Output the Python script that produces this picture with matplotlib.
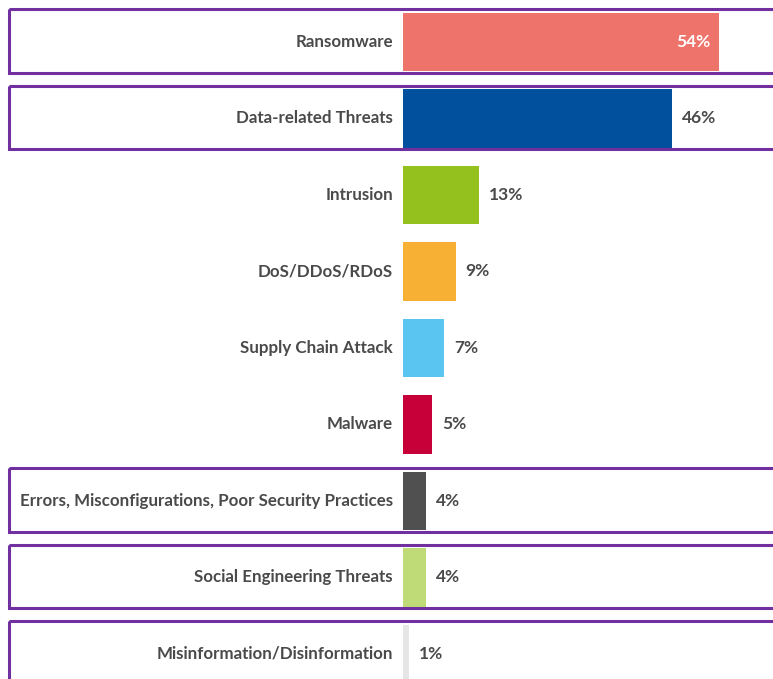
import matplotlib.pyplot as plt
from matplotlib.patches import Rectangle
from matplotlib.transforms import blended_transform_factory

categories = ['Ransomware', 'Data-related Threats', 'Intrusion', 'DoS/DDoS/RDoS',
              'Supply Chain Attack', 'Malware',
              'Errors, Misconfigurations, Poor Security Practices',
              'Social Engineering Threats', 'Misinformation/Disinformation']
values = [54, 46, 13, 9, 7, 5, 4, 4, 1]
colors = ['#EE746B', '#00509E', '#95C11F', '#F7B033', '#5BC5F2', '#C8003A',
          '#505050', '#BFDB78', '#E6E6E6']
boxed = [0, 1, 6, 7, 8]

plt.rcParams['font.family'] = ['Lato', 'DejaVu Sans']

W, H = 773, 679
fig = plt.figure(figsize=(W / 100, H / 100), dpi=100)
ax = fig.add_axes([403 / W, 0, 370 / W, 1])
ax.set_xlim(0, 370 / 5.85)
ax.set_ylim(8.327, -0.549)
ax.axis('off')

ypos = list(range(len(categories)))
ax.barh(ypos, values, height=0.77, color=colors, zorder=2)

text_col = '#4A4A4A'
for i, (cat, v) in enumerate(zip(categories, values)):
    ax.annotate(cat, (0, i), xytext=(-10, 0), textcoords='offset pixels',
                ha='right', va='center', fontsize=12.2, fontweight='bold',
                color=text_col, annotation_clip=False)
    if i == 0:
        ax.annotate(f'{v}%', (v, i), xytext=(-8, 0), textcoords='offset pixels',
                    ha='right', va='center', fontsize=12.5, fontweight='bold',
                    color='white')
    else:
        ax.annotate(f'{v}%', (v, i), xytext=(10, 0), textcoords='offset pixels',
                    ha='left', va='center', fontsize=12.5, fontweight='bold',
                    color=text_col)

# purple highlight boxes
tr = blended_transform_factory(fig.transFigure, ax.transData)
for i in boxed:
    r = Rectangle((9 / W, i - 0.43), 1.2, 0.83, transform=tr, fill=False,
                  edgecolor='#7030A0', linewidth=2.2, clip_on=False, zorder=5)
    fig.patches.append(r)

fig.savefig('out.png', dpi=100)
